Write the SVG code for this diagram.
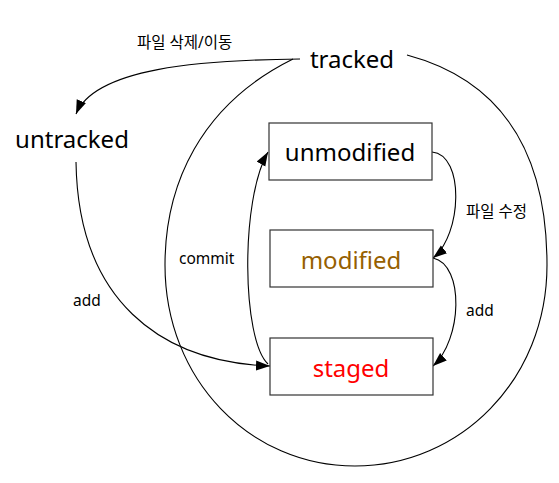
<svg xmlns="http://www.w3.org/2000/svg" width="559" height="483" viewBox="0 0 559 483">
<style>
.n{font-family:"Noto Sans","Noto Sans CJK KR",sans-serif;font-size:24px;text-anchor:middle}
.l{font-family:"Noto Sans","Noto Sans CJK KR",sans-serif;font-size:15.5px;fill:#000}
.box{fill:#fff;stroke:#333;stroke-width:1.2}
.e{fill:none;stroke:#000;stroke-width:1.1}
</style>
<defs>
<marker id="ah" markerUnits="userSpaceOnUse" markerWidth="16" markerHeight="12" refX="14" refY="5" orient="auto">
<path d="M0,0 L14,5 L0,10 z" fill="#000"/>
</marker>
</defs>
<g id="connectors">
<path class="e" d="M293,59 C200,105 165,185 165,265 C165,380 250,466 355,466 C460,466 547,380 547,265 C547,150 500,80 407,55"/>
<path class="e" d="M300,59 C200,60 95,68 76,114" marker-end="url(#ah)"/>
<path class="e" d="M76,162 C78,300 160,362 270,366" marker-end="url(#ah)"/>
<path class="e" d="M268,364 C242,340 240,200 268,152" marker-end="url(#ah)"/>
<path class="e" d="M432,152 C465,155 462,235 433,258" marker-end="url(#ah)"/>
<path class="e" d="M433,258 C465,265 462,340 433,366" marker-end="url(#ah)"/>
<text class="l" x="137" y="48">파일 삭제/이동</text>
<text class="l" x="466" y="217">파일 수정</text>
<text class="l" x="466" y="316">add</text>
<text class="l" x="179" y="264">commit</text>
<text class="l" x="73" y="306">add</text>
</g>
<g id="tracked"><text class="n" x="352" y="68">tracked</text></g>
<g id="untracked"><text class="n" x="72" y="148">untracked</text></g>
<g id="unmodified"><rect class="box" x="269" y="123" width="163" height="57"/><text class="n" x="350" y="161">unmodified</text></g>
<g id="modified"><rect class="box" x="270" y="230" width="163" height="57"/><text class="n" x="351" y="269" fill="#966000">modified</text></g>
<g id="staged"><rect class="box" x="270" y="338" width="163" height="57"/><text class="n" x="351" y="377" fill="#ff0000">staged</text></g>
</svg>
